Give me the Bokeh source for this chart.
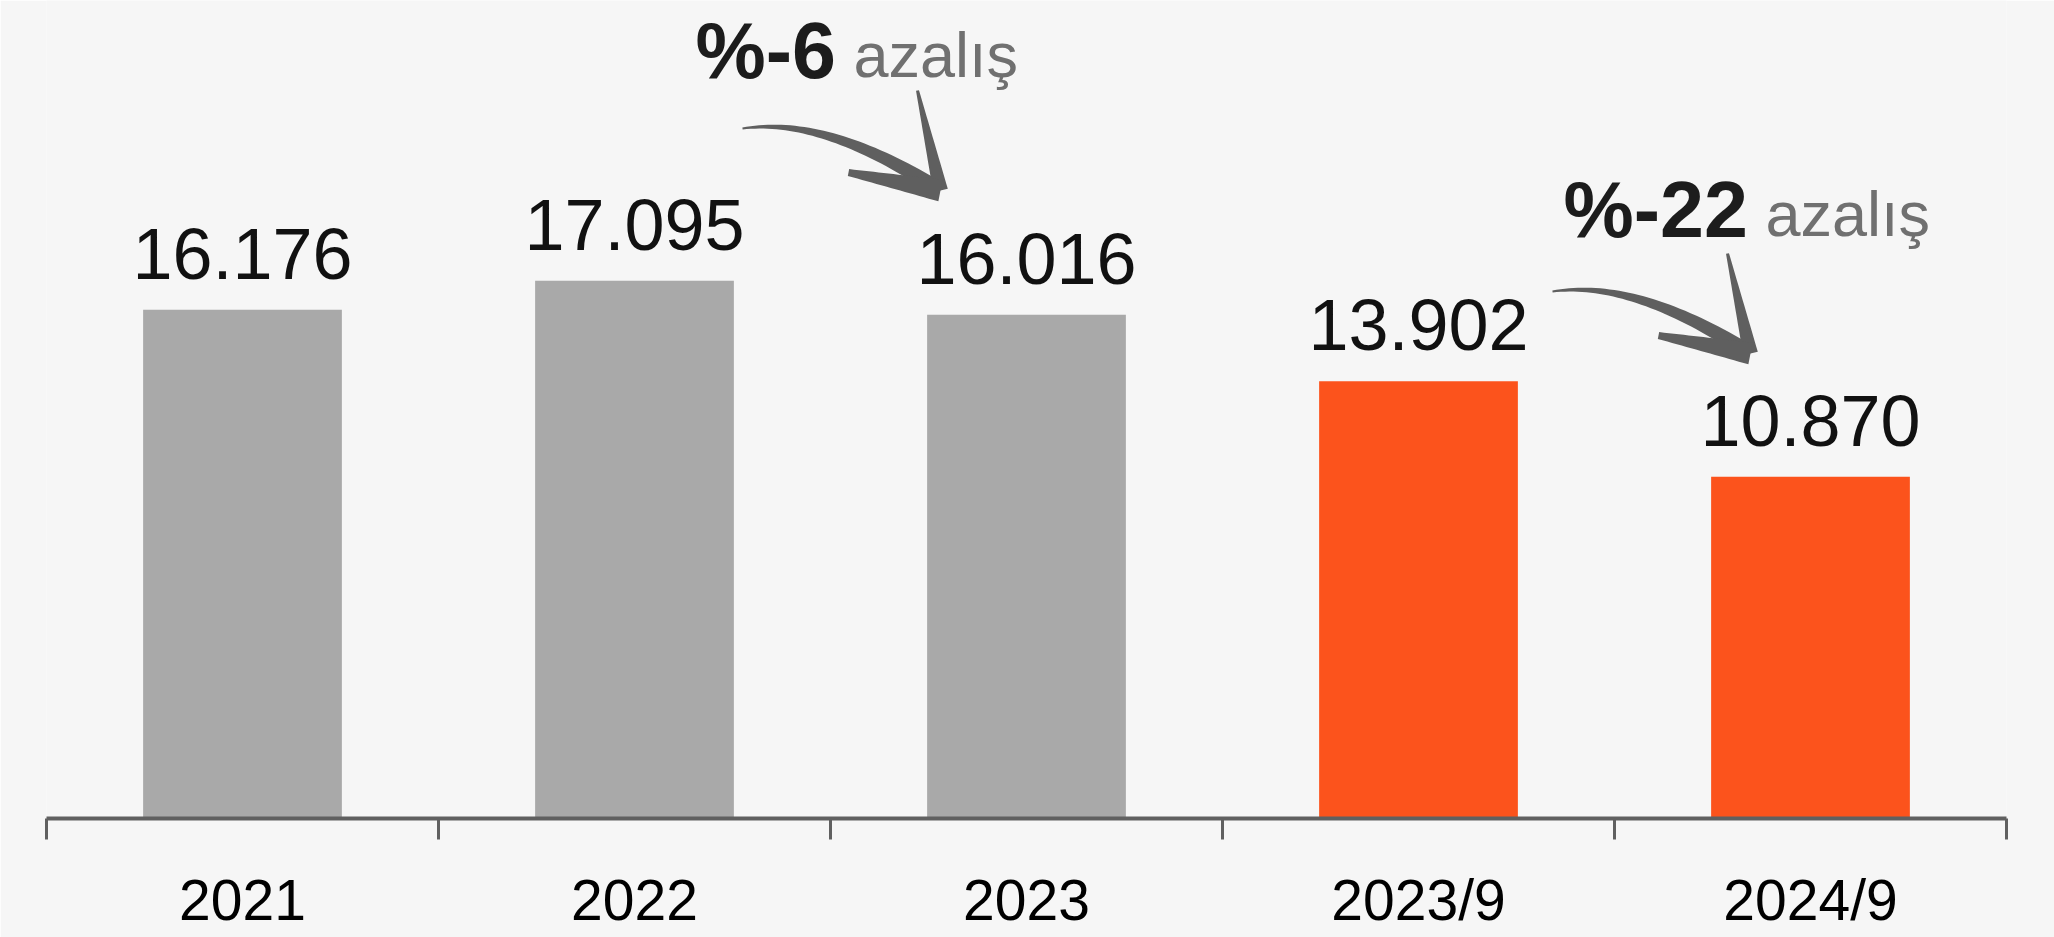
import numpy as np
from bokeh.plotting import figure
from bokeh.models import ColumnDataSource, FixedTicker, LinearAxis, Range1d
from bokeh.core.properties import value
from bokeh.embed import file_html
from bokeh.resources import INLINE

# ---- data ----
categories = ["2021", "2022", "2023", "2023/9", "2024/9"]
values = [16176, 17095, 16016, 13902, 10870]
bar_colors = ["#a9a9a9", "#a9a9a9", "#a9a9a9", "#fc531c", "#fc531c"]
value_labels = [f"{v:,}".replace(",", ".") for v in values]
change_pct = ["%-6", "%-22"]
change_word = ["azalış", "azalış"]

FONT = "Liberation Sans"

W, H = 2054, 937
ML, MR, MT, MB = 46, 48, 0, 119
frame_w = W - ML - MR
frame_h = H - MT - MB
Y_END = 26010

p = figure(width=W, height=H, output_backend="svg", toolbar_location=None,
           x_range=Range1d(0, len(categories)), y_range=Range1d(0, Y_END),
           min_border_left=ML, min_border_right=MR, min_border_top=MT,
           min_border_bottom=MB, x_axis_type=None, y_axis_type=None)
p.background_fill_color = "#f6f6f6"
p.border_fill_color = "#f6f6f6"
p.outline_line_color = None
p.xgrid.visible = False
p.ygrid.visible = False

# pixel helpers (page coordinates -> data) for annotation placement
SX = frame_w / len(categories)
SY = frame_h / Y_END
X0 = ML
Y0 = MT + frame_h
def DX(px):
    return (px - X0) / SX
def DY(py):
    return (Y0 - py) / SY

centers = [i + 0.5 for i in range(len(categories))]
src = ColumnDataSource(dict(x=centers, top=values, color=bar_colors,
                            lab=value_labels))
p.vbar(x="x", top="top", width=0.507, color="color", source=src,
       line_color=None)
p.text(x="x", y="top", text="lab", source=src, text_align="center",
       text_baseline="alphabetic", y_offset=-56,
       text_font=value(FONT), text_font_size="72px", text_color="#111111")

# axis with ticks at category boundaries
ax1 = LinearAxis(ticker=FixedTicker(ticks=list(range(len(categories) + 1))),
                 major_label_overrides={i: "" for i in range(len(categories) + 1)},
                 major_label_text_font_size="0px",
                 axis_line_color="#606060", axis_line_width=4,
                 major_tick_line_color="#606060", major_tick_line_width=3,
                 major_tick_out=21, major_tick_in=0,
                 minor_tick_line_color=None, major_label_standoff=0)
p.add_layout(ax1, "below")
# axis with category labels at centres
ax2 = LinearAxis(ticker=FixedTicker(ticks=centers),
                 major_label_overrides={c: n for c, n in zip(centers, categories)},
                 axis_line_color=None, major_tick_line_color=None,
                 minor_tick_line_color=None, major_label_standoff=22,
                 major_label_text_font=FONT, major_label_text_font_size="57px",
                 major_label_text_color="#000000")
p.add_layout(ax2, "below")

# ---- annotations: change text + brush arrows ----
pct_pos_px = [(695, 78 - 28), (1563, 237 - 28)]
word_pos_px = [(853, 78 - 24), (1765, 237 - 24)]
arrow_tips_px = [(940, 190), (1750, 353)]

for (px_, py_), (wx_, wy_), pct, word in zip(pct_pos_px, word_pos_px,
                                             change_pct, change_word):
    p.text(x=[DX(px_)], y=[DY(py_)], text=[pct], text_align="left",
           text_baseline="alphabetic", text_font=value(FONT),
           text_font_style="bold", text_font_size="79px",
           text_color="#1c1c1c")
    p.text(x=[DX(wx_)], y=[DY(wy_)], text=[word],
           text_align="left", text_baseline="alphabetic",
           text_font=value(FONT), text_font_size="63px", text_color="#707070")

def tapered(pts, w0, w1):
    pts = np.asarray(pts, float)
    d = np.gradient(pts, axis=0)
    n = np.stack([-d[:, 1], d[:, 0]], axis=1)
    n /= np.linalg.norm(n, axis=1)[:, None]
    w = np.linspace(w0, w1, len(pts))[:, None] / 2
    left = pts + n * w
    right = pts - n * w
    poly = np.vstack([left, right[::-1]])
    return [DX(x) for x in poly[:, 0]], [DY(y) for y in poly[:, 1]]

xs, ys = [], []
for tx, ty in arrow_tips_px:
    t = np.linspace(0, 1, 40)[:, None]
    S = np.array([tx - 198, ty - 62])
    C = np.array([tx - 118, ty - 74])
    T = np.array([tx - 8, ty - 5])
    curve = (1 - t) ** 2 * S + 2 * (1 - t) * t * C + t ** 2 * T
    a, b = tapered(curve, 2, 15)
    xs.append(a); ys.append(b)
    for hx, hy, w0, w1 in [(-23, -100, 3, 15), (-92, -18, 7, 22)]:
        line = np.linspace([tx + hx, ty + hy], [tx, ty], 20)
        a, b = tapered(line, w0, w1)
        xs.append(a); ys.append(b)
p.patches(xs=xs, ys=ys, fill_color="#5f5f5f", line_color=None)

open("out.html", "w").write(file_html(p, INLINE))
